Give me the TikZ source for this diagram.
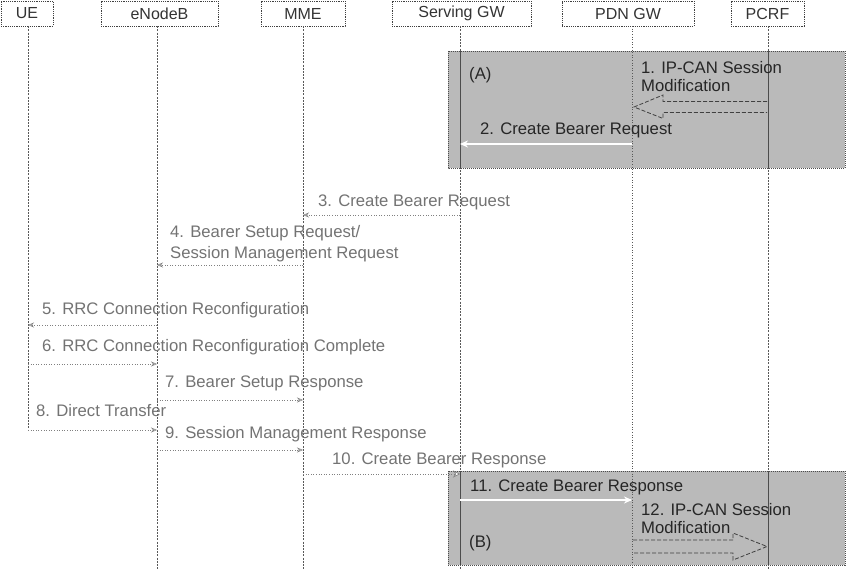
\documentclass[tikz,border=0pt]{standalone}
\usepackage{fontspec}
\setmainfont{Liberation Sans}
\usetikzlibrary{arrows.meta}
\begin{document}
\begin{tikzpicture}[x=1pt,y=-1pt,
  headbox/.style={draw=black!75, dashed, dash pattern=on 1.2pt off 1pt, line width=0.6pt, minimum height=25pt, inner sep=0pt, font=\fontsize{16}{18}\selectfont, text=black!80},
  lifeline/.style={draw=black!65, line width=0.6pt, dash pattern=on 2pt off 1.2pt},
  procbox/.style={draw=black!70, dash pattern=on 1pt off 1pt, fill=black!27, line width=0.6pt},
  msg/.style={anchor=west, inner sep=0pt, font=\fontsize{16.7}{18}\selectfont, text=black!55},
  inmsg/.style={anchor=west, inner sep=0pt, font=\fontsize{16.7}{18}\selectfont, text=black!85, align=left},
  outarrow/.style={draw=black!50, line width=0.6pt, dotted, -{Stealth[length=6pt,width=5pt,open]}},
  whitearrow/.style={draw=white, line width=1.4pt, -{Stealth[length=8pt,width=7pt,fill=white]}},
  blockarrow/.style={draw=black!75, line width=0.8pt, dash pattern=on 4pt off 2pt}
]
\useasboundingbox (0,0) rectangle (864,569);

% shaded procedure boxes
\draw[procbox] (448,51) rectangle (845,168);
\draw[procbox] (448,471) rectangle (845,565);

% header boxes
\node[headbox, minimum width=52pt] (ue) at (27,13.5) {UE};
\node[headbox, minimum width=117pt] (enb) at (159.5,13.5) {eNodeB};
\node[headbox, minimum width=84pt] (mme) at (303,13.5) {MME};
\node[headbox, minimum width=139pt] (sgw) at (461.5,13.5) {Serving GW};
\node[headbox, minimum width=132pt] (pgw) at (628,13.5) {PDN GW};
\node[headbox, minimum width=73pt] (pcrf) at (767.5,13.5) {PCRF};

% lifeline ends
\coordinate (ueEnd) at (28,430);
\coordinate (enbEnd) at (157,569);
\coordinate (mmeEnd) at (303,569);
\coordinate (sgwEnd) at (460,569);
\coordinate (pgwEnd) at (632,569);
\coordinate (pcrfEnd) at (768,569);
\draw[lifeline] (ue.south -| ueEnd) -- (ueEnd);
\draw[lifeline] (enb.south -| enbEnd) -- (enbEnd);
\draw[lifeline] (mme.south -| mmeEnd) -- (mmeEnd);
\draw[lifeline] (sgw.south -| sgwEnd) -- (sgwEnd);
\draw[lifeline, dotted] (pgw.south -| pgwEnd) -- (pgwEnd);
\draw[lifeline] (pcrf.south -| pcrfEnd) -- (pcrfEnd);
% solid lifeline segments inside shaded boxes
\coordinate (aT) at (0,51); \coordinate (aB) at (0,168);
\coordinate (bT) at (0,471); \coordinate (bB) at (0,565);
\draw[black!70, line width=0.8pt] (sgwEnd |- aT) -- (sgwEnd |- aB);
\draw[black!70, line width=0.8pt] (pcrfEnd |- aT) -- (pcrfEnd |- aB);
\draw[black!70, line width=0.8pt] (sgwEnd |- bT) -- (sgwEnd |- bB);
\draw[black!70, line width=0.8pt] (pcrfEnd |- bT) -- (pcrfEnd |- bB);

% box labels
\node[inmsg] (labA) at (469,75) {(A)};
\node[inmsg] (labB) at (469,543) {(B)};

% 1. IP-CAN Session Modification (block arrow PCRF -> PDN GW)
\node[inmsg] (t1) at (641,77) {1. IP-CAN Session\\Modification};
\draw[blockarrow] (767,101.5) -- (663,101.5) -- (663,95) -- (634,107) -- (663,118.5) -- (663,112.5) -- (767,112.5);

% 2. Create Bearer Request
\coordinate (m2a) at (632,144); \coordinate (m2b) at (460,144);
\node[inmsg] (t2) at (480,130) {2. Create Bearer Request};
\draw[whitearrow] (m2a) -- (m2b);

% 3.
\coordinate (m3a) at (460,215); \coordinate (m3b) at (303,215);
\node[msg] (t3) at (318,202) {3. Create Bearer Request};
\draw[outarrow] (m3a) -- (m3b);

% 4.
\coordinate (m4a) at (303,265); \coordinate (m4b) at (157,265);
\node[msg, align=left, font=\fontsize{16.7}{21}\selectfont] (t4) at (170,243.5) {4. Bearer Setup Request/\\Session Management Request};
\draw[outarrow] (m4a) -- (m4b);

% 5.
\coordinate (m5a) at (157,325); \coordinate (m5b) at (28,325);
\node[msg] (t5) at (42,310) {5. RRC Connection Reconfiguration};
\draw[outarrow] (m5a) -- (m5b);

% 6.
\coordinate (m6a) at (28,364); \coordinate (m6b) at (157,364);
\node[msg] (t6) at (42,347) {6. RRC Connection Reconfiguration Complete};
\draw[outarrow] (m6a) -- (m6b);

% 7.
\coordinate (m7a) at (157,400); \coordinate (m7b) at (303,400);
\node[msg] (t7) at (165,383) {7. Bearer Setup Response};
\draw[outarrow] (m7a) -- (m7b);

% 8.
\coordinate (m8a) at (28,430); \coordinate (m8b) at (157,430);
\node[msg] (t8) at (36,411) {8. Direct Transfer};
\draw[outarrow] (m8a) -- (m8b);

% 9.
\coordinate (m9a) at (157,450); \coordinate (m9b) at (303,450);
\node[msg] (t9) at (165,434) {9. Session Management Response};
\draw[outarrow] (m9a) -- (m9b);

% 10.
\coordinate (m10a) at (303,474); \coordinate (m10b) at (460,474);
\node[msg] (t10) at (332,460) {10. Create Bearer Response};
\draw[outarrow, -{Stealth[length=7pt,width=7pt,fill=white]}] (m10a) -- (m10b);

% 11.
\coordinate (m11a) at (460,500); \coordinate (m11b) at (632,500);
\node[inmsg] (t11) at (470,487) {11. Create Bearer Response};
\draw[whitearrow] (m11a) -- (m11b);

% 12. IP-CAN Session Modification (block arrow PDN GW -> PCRF)
\node[inmsg] (t12) at (641,519) {12. IP-CAN Session\\Modification};
\draw[blockarrow] (633,540) -- (733,540) -- (733,533) -- (767,546.5) -- (733,560) -- (733,553) -- (633,553);
\end{tikzpicture}
\end{document}
